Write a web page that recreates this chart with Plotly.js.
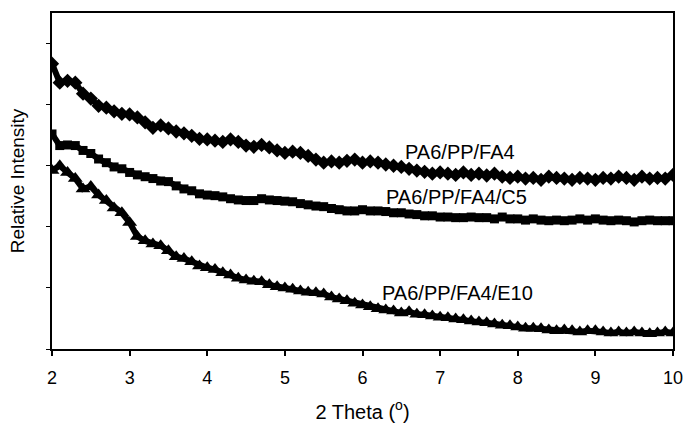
<!DOCTYPE html>
<html>
<head>
<meta charset="utf-8">
<script src="https://cdn.plot.ly/plotly-3.0.1.min.js"></script>
<style>
  html, body { margin: 0; padding: 0; background: #fff; }
  #chart { width: 684px; height: 430px; }
</style>
</head>
<body>
<div id="chart"></div>
<script>
// 2 Theta positions (degrees)
const theta = [
  2.0,2.1,2.2,2.3,2.4,2.5,2.6,2.7,2.8,2.9,
  3.0,3.1,3.2,3.3,3.4,3.5,3.6,3.7,3.8,3.9,
  4.0,4.1,4.2,4.3,4.4,4.5,4.6,4.7,4.8,4.9,
  5.0,5.1,5.2,5.3,5.4,5.5,5.6,5.7,5.8,5.9,
  6.0,6.1,6.2,6.3,6.4,6.5,6.6,6.7,6.8,6.9,
  7.0,7.1,7.2,7.3,7.4,7.5,7.6,7.7,7.8,7.9,
  8.0,8.1,8.2,8.3,8.4,8.5,8.6,8.7,8.8,8.9,
  9.0,9.1,9.2,9.3,9.4,9.5,9.6,9.7,9.8,9.9,
  10.0
];

// Relative intensity (arbitrary units)
const fa4 = [
  4.67,4.36,4.39,4.36,4.18,4.10,3.98,3.95,3.89,3.85,
  3.84,3.79,3.71,3.62,3.66,3.61,3.56,3.53,3.49,3.44,
  3.43,3.41,3.39,3.43,3.39,3.33,3.31,3.34,3.30,3.25,
  3.21,3.23,3.21,3.16,3.10,3.05,3.07,3.05,3.08,3.10,
  3.05,3.07,3.05,3.02,3.00,2.98,2.95,2.92,2.90,2.87,
  2.89,2.87,2.85,2.89,2.85,2.87,2.84,2.87,2.82,2.80,
  2.82,2.79,2.80,2.77,2.82,2.80,2.79,2.77,2.80,2.79,
  2.77,2.80,2.79,2.82,2.80,2.77,2.82,2.79,2.80,2.79,
  2.85
];

const fa4c5 = [
  3.52,3.33,3.34,3.33,3.25,3.20,3.11,3.05,2.98,2.95,
  2.89,2.85,2.82,2.79,2.75,2.74,2.67,2.62,2.59,2.54,
  2.52,2.51,2.49,2.46,2.44,2.43,2.43,2.46,2.44,2.43,
  2.42,2.41,2.38,2.36,2.34,2.33,2.30,2.28,2.26,2.26,
  2.28,2.26,2.26,2.25,2.23,2.23,2.21,2.20,2.18,2.18,
  2.16,2.16,2.15,2.15,2.16,2.15,2.15,2.13,2.16,2.13,
  2.13,2.11,2.13,2.11,2.10,2.11,2.10,2.11,2.13,2.11,
  2.13,2.11,2.10,2.11,2.10,2.08,2.10,2.11,2.10,2.10,
  2.10
];

const fa4e10 = [
  2.92,3.00,2.89,2.79,2.62,2.66,2.52,2.43,2.31,2.23,
  2.07,1.84,1.77,1.72,1.69,1.61,1.51,1.48,1.43,1.36,
  1.33,1.30,1.25,1.21,1.16,1.13,1.11,1.10,1.05,1.02,
  1.00,0.98,0.95,0.93,0.92,0.90,0.85,0.82,0.79,0.75,
  0.72,0.69,0.66,0.64,0.62,0.59,0.61,0.57,0.56,0.54,
  0.52,0.51,0.49,0.48,0.46,0.44,0.43,0.41,0.39,0.38,
  0.36,0.34,0.34,0.33,0.31,0.30,0.31,0.30,0.28,0.30,
  0.30,0.28,0.26,0.28,0.26,0.28,0.26,0.25,0.26,0.28,
  0.26
];

const seriesNames = ['PA6/PP/FA4', 'PA6/PP/FA4/C5', 'PA6/PP/FA4/E10'];
const xTicks = [2,3,4,5,6,7,8,9,10];

const FONT = 'Liberation Sans, Arial, sans-serif';

function trace(y, name, symbol, size) {
  return {
    x: theta, y: y, name: name, type: 'scatter', mode: 'lines+markers',
    line: {color: '#000', width: 6},
    marker: {symbol: symbol, size: size, color: '#000'},
    showlegend: false, hoverinfo: 'x+y'
  };
}

const data = [
  trace(fa4, seriesNames[0], 'diamond', 11),
  trace(fa4c5, seriesNames[1], 'square', 9),
  trace(fa4e10, seriesNames[2], 'triangle-up', 13)
];

const layout = {
  width: 684, height: 430,
  margin: {l: 52, r: 11, t: 13, b: 81},
  paper_bgcolor: '#fff', plot_bgcolor: '#fff',
  font: {family: FONT, color: '#000', size: 18},
  xaxis: {
    range: [2, 10], tickvals: xTicks, ticktext: xTicks.map(String),
    ticks: 'outside', ticklen: 5, tickwidth: 2, tickcolor: '#000',
    ticklabelstandoff: 6,
    showline: true, linewidth: 2, linecolor: '#000', mirror: true,
    showgrid: false, zeroline: false,
    tickfont: {family: FONT, size: 18, color: '#000'},
    title: {text: '2 Theta (<sup>o</sup>)', font: {family: FONT, size: 20, color: '#000'}, standoff: 18}
  },
  yaxis: {
    range: [0, 5.5], dtick: 1, tick0: 0,
    ticks: 'outside', ticklen: 4, tickwidth: 1, tickcolor: '#000',
    showticklabels: false,
    showline: true, linewidth: 2, linecolor: '#000', mirror: true,
    showgrid: false, zeroline: false,
    title: {text: 'Relative Intensity', font: {family: FONT, size: 19, color: '#000'}, standoff: 16}
  },
  annotations: [
    {x: 6.52, y: 3.22, xref: 'x', yref: 'y', text: seriesNames[0], showarrow: false,
     xanchor: 'left', yanchor: 'middle', font: {family: FONT, size: 20, color: '#000'}},
    {x: 6.28, y: 2.49, xref: 'x', yref: 'y', text: seriesNames[1], showarrow: false,
     xanchor: 'left', yanchor: 'middle', font: {family: FONT, size: 20, color: '#000'}},
    {x: 6.22, y: 0.92, xref: 'x', yref: 'y', text: seriesNames[2], showarrow: false,
     xanchor: 'left', yanchor: 'middle', font: {family: FONT, size: 20, color: '#000'}}
  ]
};

Plotly.newPlot('chart', data, layout, {staticPlot: true, displayModeBar: false});
</script>
</body>
</html>
